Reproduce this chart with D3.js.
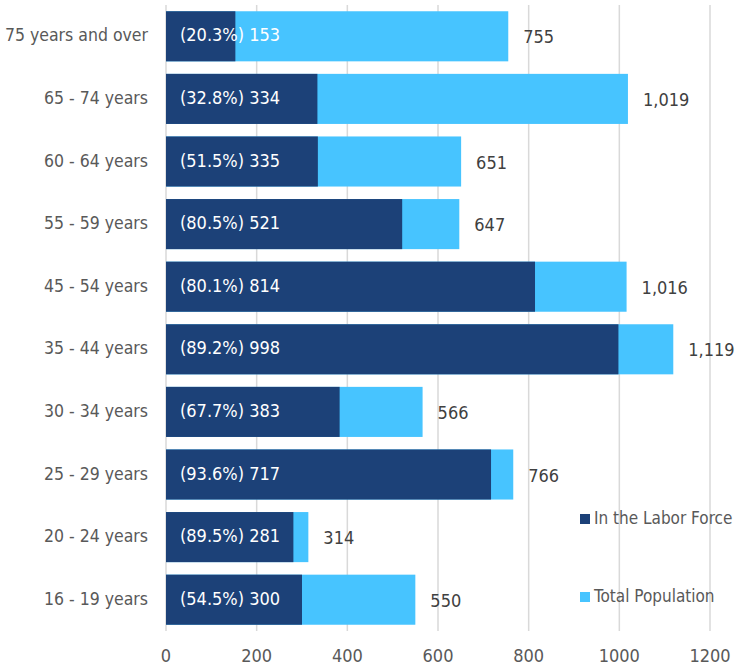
<!DOCTYPE html>
<meta charset="utf-8">
<html>
<head>
  <style>
    body { margin: 0; background: white; }
    text { font-family: "DejaVu Sans Condensed", sans-serif; }
    .grid line { stroke: #d9d9d9; stroke-width: 1.5px; }
    .cat { font-size: 17.5px; fill: #595959; text-anchor: end; dominant-baseline: middle; }
    .tick-label { font-size: 18px; fill: #595959; text-anchor: middle; }
    .inner { font-size: 18px; fill: white; dominant-baseline: middle; }
    .outer { font-size: 18px; fill: #404040; dominant-baseline: middle; }
    .legend { font-size: 17px; fill: #595959; dominant-baseline: middle; }
  </style>
</head>
<body>
<svg width="738" height="666"></svg>

<script src="https://d3js.org/d3.v7.min.js"></script>
<script>

// Data
const ageGroups = ["75 years and over", "65 - 74 years", "60 - 64 years", "55 - 59 years",
  "45 - 54 years", "35 - 44 years", "30 - 34 years", "25 - 29 years", "20 - 24 years", "16 - 19 years"];
const laborForce = [153, 334, 335, 521, 814, 998, 383, 717, 281, 300];
const laborPct = ["20.3%", "32.8%", "51.5%", "80.5%", "80.1%", "89.2%", "67.7%", "93.6%", "89.5%", "54.5%"];
const totalPop = [755, 1019, 651, 647, 1016, 1119, 566, 766, 314, 550];
const xTicks = [0, 200, 400, 600, 800, 1000, 1200];
const seriesNames = ["In the Labor Force", "Total Population"];
const colors = ["#1c4178", "#47c4ff"];

const svg = d3.select("svg");

const x = d3.scaleLinear().domain([0, 1200]).range([166, 710]);
const y = d3.scaleBand().domain(ageGroups).range([5, 631]).paddingInner(0.2).paddingOuter(0.1);

// gridlines
svg.append("g").attr("class", "grid")
  .selectAll("line").data(xTicks).join("line")
  .attr("x1", d => x(d)).attr("x2", d => x(d))
  .attr("y1", 5).attr("y2", 631);

// x tick labels
svg.append("g").selectAll("text").data(xTicks).join("text")
  .attr("class", "tick-label")
  .attr("x", d => x(d)).attr("y", 662)
  .text(d => d);

const rows = ageGroups.map((g, i) => ({ g, lf: laborForce[i], pct: laborPct[i], tot: totalPop[i] }));

// total population bars (behind)
svg.append("g").selectAll("rect").data(rows).join("rect")
  .attr("x", x(0)).attr("y", d => y(d.g))
  .attr("width", d => x(d.tot) - x(0)).attr("height", y.bandwidth())
  .attr("fill", colors[1]);

// labor force bars
svg.append("g").selectAll("rect").data(rows).join("rect")
  .attr("x", x(0)).attr("y", d => y(d.g))
  .attr("width", d => x(d.lf) - x(0)).attr("height", y.bandwidth())
  .attr("fill", colors[0]);

// category labels
svg.append("g").selectAll("text").data(rows).join("text")
  .attr("class", "cat")
  .attr("x", 148).attr("y", d => y(d.g) + y.bandwidth() / 2)
  .text(d => d.g);

// inner labels
svg.append("g").selectAll("text").data(rows).join("text")
  .attr("class", "inner")
  .attr("x", x(0) + 14).attr("y", d => y(d.g) + y.bandwidth() / 2)
  .text(d => `(${d.pct}) ${d.lf}`);

// total labels
svg.append("g").selectAll("text").data(rows).join("text")
  .attr("class", "outer")
  .attr("x", d => x(d.tot) + 15).attr("y", d => y(d.g) + y.bandwidth() / 2 + 2)
  .text(d => d3.format(",")(d.tot));

// legend
const legend = svg.append("g").selectAll("g").data(seriesNames).join("g")
  .attr("transform", (d, i) => `translate(580, ${519 + i * 78})`);
legend.append("rect").attr("x", 0).attr("y", -5).attr("width", 10).attr("height", 10)
  .attr("fill", (d, i) => colors[i]);
legend.append("text").attr("class", "legend").attr("x", 14).attr("y", 0).text(d => d);

</script>
</body>
</html>
